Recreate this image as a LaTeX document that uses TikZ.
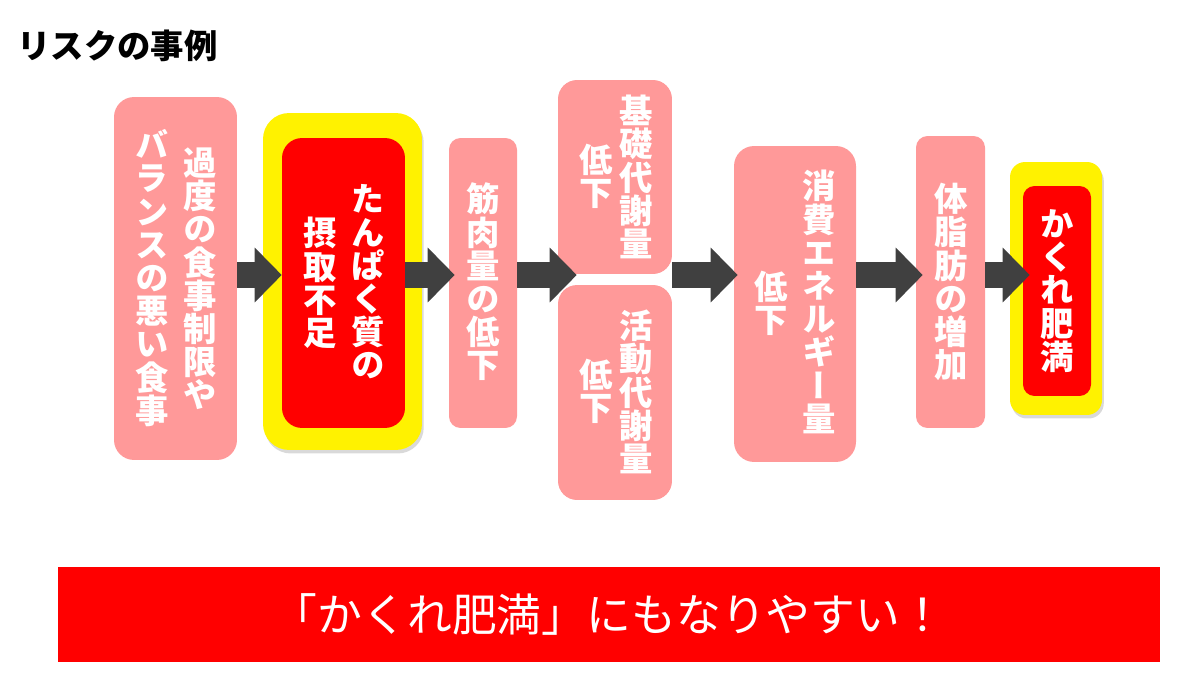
\documentclass[tikz,border=0pt]{standalone}
\usepackage{fontspec}
\newfontfamily\jp{Noto Sans CJK JP}
\newfontfamily\jpv{Noto Sans CJK JP}[RawFeature=+vert]
\usetikzlibrary{arrows.meta,shadows}
\definecolor{pinkfill}{RGB}{255,153,153}
\definecolor{arrowgray}{RGB}{64,64,64}

\begin{document}
\begin{tikzpicture}[x=0.02cm, y=-0.02cm,
    pink/.style = {fill=pinkfill, inner sep=0},
    hot/.style = {fill=red, inner sep=0},
    glow/.style = {fill=yellow, inner sep=0, drop shadow={shadow xshift=1pt, shadow yshift=-2pt, opacity=0.3}},
    col/.style = {text=white, font=\jpv\bfseries\fontsize{19pt}{18.9pt}\selectfont, align=center, inner sep=0},
    go/.style = {draw=arrowgray, line width=0.54cm, -{Triangle[length=0.54cm, width=1.1cm, line width=0pt]}}]
    \useasboundingbox (0,0) rectangle (1196,682);
    \coordinate (mid) at (0,275);
    \node[anchor=west, inner sep=0, font=\jp\bfseries\fontsize{19pt}{19pt}\selectfont] (title) at (17,46) {リスクの事例};
    % boxes
    \node[pink, minimum width=2.46cm, minimum height=7.26cm, rounded corners=0.4cm] (diet) at (175.5,278.5) {};
    \node[glow, minimum width=3.18cm, minimum height=6.74cm, rounded corners=0.52cm] (glow1) at (342.5,281.5) {};
    \node[hot, minimum width=2.46cm, minimum height=5.8cm, rounded corners=0.4cm] (protein) at (343.5,283) {};
    \node[pink, minimum width=1.36cm, minimum height=5.8cm, rounded corners=0.23cm] (muscle) at (483,283) {};
    \node[pink, minimum width=2.28cm, minimum height=3.88cm, rounded corners=0.38cm] (basal) at (615,177) {};
    \node[pink, minimum width=2.28cm, minimum height=4.3cm, rounded corners=0.38cm] (active) at (615,392.5) {};
    \node[pink, minimum width=2.44cm, minimum height=6.32cm, rounded corners=0.4cm] (energy) at (795,304) {};
    \node[pink, minimum width=1.38cm, minimum height=5.84cm, rounded corners=0.23cm] (fat) at (950.5,282) {};
    \node[glow, minimum width=1.84cm, minimum height=5.06cm, rounded corners=0.3cm] (glow2) at (1056,288.5) {};
    \node[hot, minimum width=1.36cm, minimum height=4.2cm, rounded corners=0.23cm] (hidden) at (1057,291) {};
    % vertical texts
    \node[col] (diet1) at (200,279) {過\\度\\の\\食\\事\\制\\限\\や};
    \node[col] (diet2) at (152,278) {バ\\ラ\\ン\\ス\\の\\悪\\い\\食\\事};
    \node[col] (prot1) at (368,282) {た\\ん\\ぱ\\く\\質\\の};
    \node[col] (prot2) at (320,283) {摂\\取\\不\\足};
    \node[col] (mus1) at (483,282) {筋\\肉\\量\\の\\低\\下};
    \node[col] (bas1) at (636,177) {基\\礎\\代\\謝\\量};
    \node[col] (bas2) at (596,176) {低\\下};
    \node[col] (act1) at (636,392) {活\\動\\代\\謝\\量};
    \node[col] (act2) at (596,391) {低\\下};
    \node[col] (ene1) at (819,302) {消\\費\\エ\\ネ\\ル\\ギ\\ー\\量};
    \node[col] (ene2) at (771,303) {低\\下};
    \node[col] (fat1) at (951,282) {体\\脂\\肪\\の\\増\\加};
    \node[col] (hid1) at (1057,291) {か\\く\\れ\\肥\\満};
    \node[fill=red, minimum width=22.04cm, minimum height=1.9cm, inner sep=0, text=white, font=\jp\fontsize{25.5pt}{25.5pt}\selectfont] (banner) at (609,614.5) {「かくれ肥満」にもなりやすい！};
    % arrows
    \draw[go] (diet.east |- mid) -- (protein.west |- mid);
    \draw[go] (protein.east |- mid) -- ([xshift=0.12cm]muscle.west |- mid);
    \draw[go] (muscle.east |- mid) -- ([xshift=0.38cm]basal.west |- mid);
    \draw[go] (basal.east |- mid) -- ([xshift=0.08cm]energy.west |- mid);
    \draw[go] (energy.east |- mid) -- ([xshift=0.14cm]fat.west |- mid);
    \draw[go] (fat.east |- mid) -- ([xshift=0.14cm]hidden.west |- mid);
\end{tikzpicture}
\end{document}
